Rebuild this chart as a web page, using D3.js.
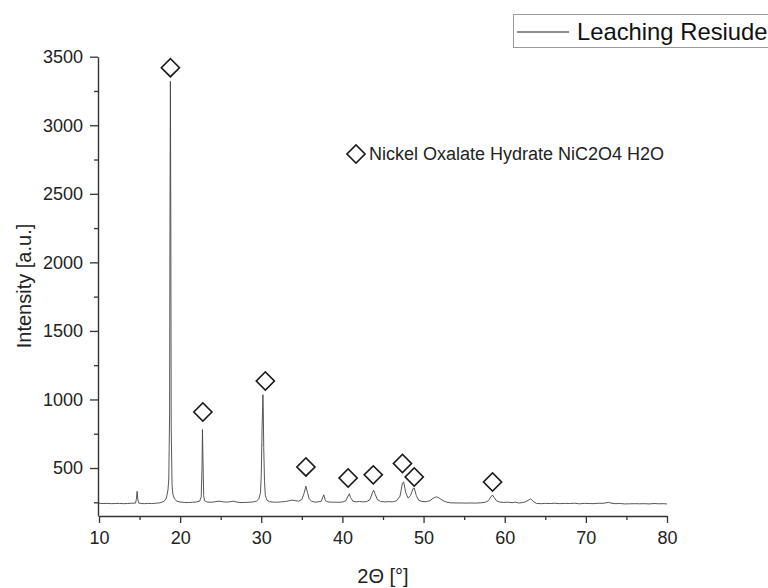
<!DOCTYPE html>
<html><head><meta charset="utf-8">
<script src="https://cdn.jsdelivr.net/npm/d3@7"></script>
<style>
body{margin:0;background:#fff;}
svg{display:block;font-family:"Liberation Sans",Arial,sans-serif;}
</style></head>
<body>
<svg id="c" width="768" height="588"></svg>
<script>
const twoTheta = [10.0,10.5,11.0,11.5,12.0,12.5,13.0,13.5,14.0,14.5,14.6,14.7,14.8,14.9,15.2,15.6,16.0,16.5,17.0,17.5,18.0,18.3,18.5,18.6,18.7,18.75,18.8,18.85,18.9,19.0,19.1,19.3,19.6,20.0,20.5,21.0,21.5,22.0,22.4,22.6,22.7,22.75,22.8,22.9,23.0,23.3,23.8,24.3,24.8,25.2,25.7,26.2,26.6,27.0,27.5,28.0,28.5,29.0,29.4,29.7,29.9,30.0,30.1,30.2,30.25,30.3,30.4,30.5,30.7,31.0,31.5,32.0,32.5,33.0,33.5,33.8,34.2,34.6,35.0,35.3,35.5,35.7,35.9,36.2,36.6,37.0,37.4,37.7,37.9,38.2,38.6,39.0,39.5,40.0,40.4,40.7,40.85,41.0,41.3,41.7,42.1,42.5,43.0,43.4,43.7,43.85,44.0,44.3,44.7,45.2,45.7,46.2,46.7,47.1,47.4,47.55,47.8,48.1,48.4,48.7,48.85,49.1,49.4,49.8,50.3,50.8,51.2,51.6,52.0,52.4,52.8,53.3,54.0,54.6,55.2,55.8,56.4,57.0,57.6,58.0,58.3,58.5,58.7,59.0,59.4,59.9,60.4,60.9,61.3,61.7,62.1,62.5,62.9,63.2,63.5,63.9,64.5,65.0,65.6,66.2,66.8,67.4,68.0,68.6,69.2,69.8,70.4,71.0,71.5,72.0,72.5,72.8,73.1,73.6,74.2,74.8,75.4,76.0,76.6,77.2,77.8,78.4,79.0,79.5,80.0];
const intensity = [243,241,242,240,241,242,240,241,243,244,270,330,265,245,241,240,242,241,243,246,256,280,340,420,900,2400,3320,2300,800,380,310,275,258,252,249,248,250,252,258,290,520,780,600,300,262,252,250,254,258,254,251,254,258,251,248,249,250,253,258,275,320,450,800,1035,900,650,400,300,265,255,251,251,253,256,262,266,262,258,270,320,368,320,275,258,251,253,258,305,262,253,251,251,250,252,260,295,312,285,258,253,256,253,255,270,320,338,315,270,256,253,255,253,262,295,390,398,320,280,300,350,354,300,265,256,254,262,280,290,278,262,252,246,245,245,244,245,244,246,250,262,290,303,285,260,251,249,251,247,251,245,247,252,265,275,258,242,240,242,241,243,240,242,241,243,239,242,241,240,243,242,246,250,244,240,241,238,239,240,239,240,238,241,239,240,238];
const markerTheta = [18.8,22.8,30.5,35.5,40.7,43.8,47.4,48.85,58.5];
const markerValue = [3420,909,1135,508,427,450,533,434,398];
const xTicks = [10,20,30,40,50,60,70,80];
const xMinor = [15,25,35,45,55,65,75];
const yTicks = [500,1000,1500,2000,2500,3000,3500];
const yMinor = [250,750,1250,1750,2250,2750,3250];
const seriesName = "Leaching Resiude";
const phaseLabel = "Nickel Oxalate Hydrate NiC2O4 H2O";

const svg = d3.select("#c");
const x = d3.scaleLinear().domain([10,80]).range([99,667]);
const y = d3.scaleLinear().domain([150,3500]).range([516,56.7]);
const axisColor = "#333";

// minor ticks
svg.append("g").attr("transform","translate(0,516)")
  .call(d3.axisBottom(x).tickValues(xMinor).tickSize(4).tickFormat("").tickSizeOuter(0))
  .call(g=>{g.select(".domain").remove(); g.selectAll("line").attr("stroke",axisColor).attr("stroke-width",1.3);});
svg.append("g").attr("transform","translate(98,0)")
  .call(d3.axisLeft(y).tickValues(yMinor).tickSize(4).tickFormat("").tickSizeOuter(0))
  .call(g=>{g.select(".domain").remove(); g.selectAll("line").attr("stroke",axisColor).attr("stroke-width",1.3);});

// major axes
const xa = svg.append("g").attr("transform","translate(0,516)")
  .call(d3.axisBottom(x).tickValues(xTicks).tickSize(7).tickPadding(8).tickFormat(d3.format("d")).tickSizeOuter(0));
xa.select(".domain").attr("stroke",axisColor).attr("stroke-width",1.4);
xa.selectAll("line").attr("stroke",axisColor).attr("stroke-width",1.3);
xa.selectAll("text").attr("font-size",18).attr("fill","#222").style("font-family","'Liberation Sans',Arial,sans-serif");

const ya = svg.append("g").attr("transform","translate(98,0)")
  .call(d3.axisLeft(y).tickValues(yTicks).tickSize(8).tickPadding(7).tickFormat(d3.format("d")).tickSizeOuter(0));
ya.select(".domain").attr("stroke",axisColor).attr("stroke-width",1.4);
ya.selectAll("line").attr("stroke",axisColor).attr("stroke-width",1.3);
ya.selectAll("text").attr("font-size",18).attr("fill","#222").style("font-family","'Liberation Sans',Arial,sans-serif");

// axis titles
svg.append("text").attr("x",383).attr("y",583).attr("text-anchor","middle")
  .attr("font-size",20).attr("fill","#222").text("2Θ [°]");
svg.append("text").attr("transform","translate(31,286) rotate(-90)").attr("text-anchor","middle")
  .attr("font-size",20).attr("fill","#222").text("Intensity [a.u.]");

// data line
const data = twoTheta.map((t,i)=>({t, v:intensity[i]}));
svg.append("path").datum(data)
  .attr("fill","none").attr("stroke","#444").attr("stroke-width",0.9)
  .attr("d", d3.line().x(d=>x(d.t)).y(d=>y(d.v)));

// diamond markers
const diamond = d3.symbol().type(d3.symbolSquare).size(165);
svg.append("g").selectAll("path").data(markerTheta.map((t,i)=>({t,v:markerValue[i]})))
  .join("path")
  .attr("d", diamond)
  .attr("transform", d=>`translate(${x(d.t)},${y(d.v)}) rotate(45)`)
  .attr("fill","none").attr("stroke","#1a1a1a").attr("stroke-width",1.6);

// phase annotation
svg.append("path").attr("d", diamond).attr("transform","translate(356,154) rotate(45)")
  .attr("fill","none").attr("stroke","#1a1a1a").attr("stroke-width",1.6);
svg.append("text").attr("x",369).attr("y",160).attr("font-size",18).attr("fill","#222").text(phaseLabel);

// legend
svg.append("rect").attr("x",513.5).attr("y",14.5).attr("width",270).attr("height",33)
  .attr("fill","#fff").attr("stroke","#999").attr("stroke-width",1);
svg.append("line").attr("x1",517).attr("x2",569).attr("y1",32).attr("y2",32)
  .attr("stroke","#222").attr("stroke-width",1.2);
svg.append("text").attr("x",577).attr("y",40).attr("font-size",23.8).attr("fill","#111").text(seriesName);
</script>
</body></html>
